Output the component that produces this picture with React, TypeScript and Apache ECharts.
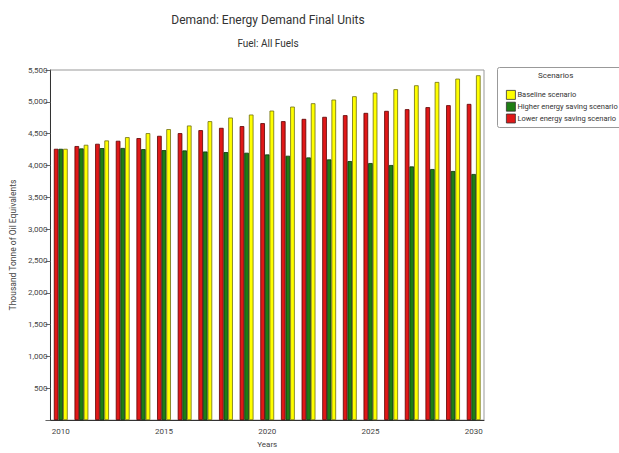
import React, { useEffect, useRef } from "react";
import * as echarts from "echarts";

const years = ["2010","2011","2012","2013","2014","2015","2016","2017","2018","2019","2020","2021","2022","2023","2024","2025","2026","2027","2028","2029","2030"];
const lowerSaving = [4262,4305,4341,4388,4430,4466,4508,4555,4591,4618,4665,4696,4732,4764,4790,4826,4858,4884,4916,4947,4967];
const higherSaving = [4262,4268,4273,4275,4257,4241,4236,4220,4210,4200,4173,4153,4126,4095,4069,4038,4007,3985,3944,3913,3866];
const baseline = [4262,4325,4393,4445,4508,4571,4628,4696,4753,4800,4862,4925,4978,5035,5088,5145,5198,5260,5312,5364,5417];

const FONT = "Roboto, sans-serif";

export default function App() {
  const ref = useRef<HTMLDivElement>(null);
  useEffect(() => {
    if (!ref.current) return;
    const chart = echarts.init(ref.current, null, { renderer: "svg" });
    const barStyle = (c: string, b: string) => ({ color: c, borderColor: b, borderWidth: 0.8 });
    chart.setOption({
      animation: false,
      backgroundColor: "#fff",
      textStyle: { fontFamily: FONT },
      title: [
        { text: "Demand: Energy Demand Final Units", left: 263, top: 9, textAlign: "center",
          textStyle: { fontSize: 12, fontWeight: "normal", color: "#333", fontFamily: FONT } },
        { text: "Fuel: All Fuels", left: 263, top: 33, textAlign: "center",
          textStyle: { fontSize: 10, fontWeight: "normal", color: "#333", fontFamily: FONT } },
      ],
      graphic: [
        { type: "rect", left: 497, top: 67, shape: { width: 140, height: 60, r: 2 },
          style: { fill: "#fff", stroke: "#999", lineWidth: 1 } },
        { type: "text", left: 538, top: 71, style: { text: "Scenarios", fontSize: 8, fill: "#333", fontFamily: FONT } },
      ],
      legend: {
        left: 501, top: 85, orient: "vertical", itemWidth: 9, itemHeight: 9, itemGap: 2,
        icon: "rect",
        textStyle: { fontSize: 7.5, color: "#333", fontFamily: FONT, padding: [0, 0, 0, -3] },
        data: ["Baseline scenario", "Higher energy saving scenario", "Lower energy saving scenario"],
        itemStyle: { borderColor: "#333", borderWidth: 0.8 },
      },
      grid: { left: 48, right: 135, top: 70, bottom: 31, show: true, borderColor: "#999", borderWidth: 1 },
      xAxis: {
        type: "category", data: years, name: "Years", nameLocation: "middle", nameGap: 19,
        nameTextStyle: { fontSize: 8, color: "#444", fontFamily: FONT },
        axisLine: { lineStyle: { color: "#333" } },
        axisTick: { alignWithLabel: true, interval: 4, length: 4, lineStyle: { color: "#666" } },
        axisLabel: { interval: 4, fontSize: 8, color: "#444", margin: 7, fontFamily: FONT },
      },
      yAxis: {
        type: "value", min: 0, max: 5500, interval: 500,
        name: "Thousand Tonne of Oil Equivalents", nameLocation: "middle", nameGap: 33, nameRotate: 90,
        nameTextStyle: { fontSize: 8.5, color: "#444", fontFamily: FONT },
        axisLine: { show: true, lineStyle: { color: "#333" } },
        axisTick: { show: true, length: 5, lineStyle: { color: "#666" } },
        splitLine: { show: false },
        axisLabel: {
          fontSize: 8, color: "#444", margin: 3, fontFamily: FONT,
          formatter: (v: number) => (v === 0 ? "" : v.toLocaleString("en-US")),
        },
      },
      series: [
        { name: "Lower energy saving scenario", type: "bar", data: lowerSaving, barGap: "0%", barCategoryGap: "33%",
          itemStyle: barStyle("#e01818", "#5a0000") },
        { name: "Higher energy saving scenario", type: "bar", data: higherSaving, barGap: "0%", barCategoryGap: "33%",
          itemStyle: barStyle("#1e7e14", "#0a300a") },
        { name: "Baseline scenario", type: "bar", data: baseline, barGap: "0%", barCategoryGap: "33%",
          itemStyle: barStyle("#ffff00", "#6e6e10") },
      ],
    });
    return () => chart.dispose();
  }, []);
  return <div ref={ref} style={{ position: "absolute", left: 0, top: 0, width: 619, height: 453 }} />;
}
